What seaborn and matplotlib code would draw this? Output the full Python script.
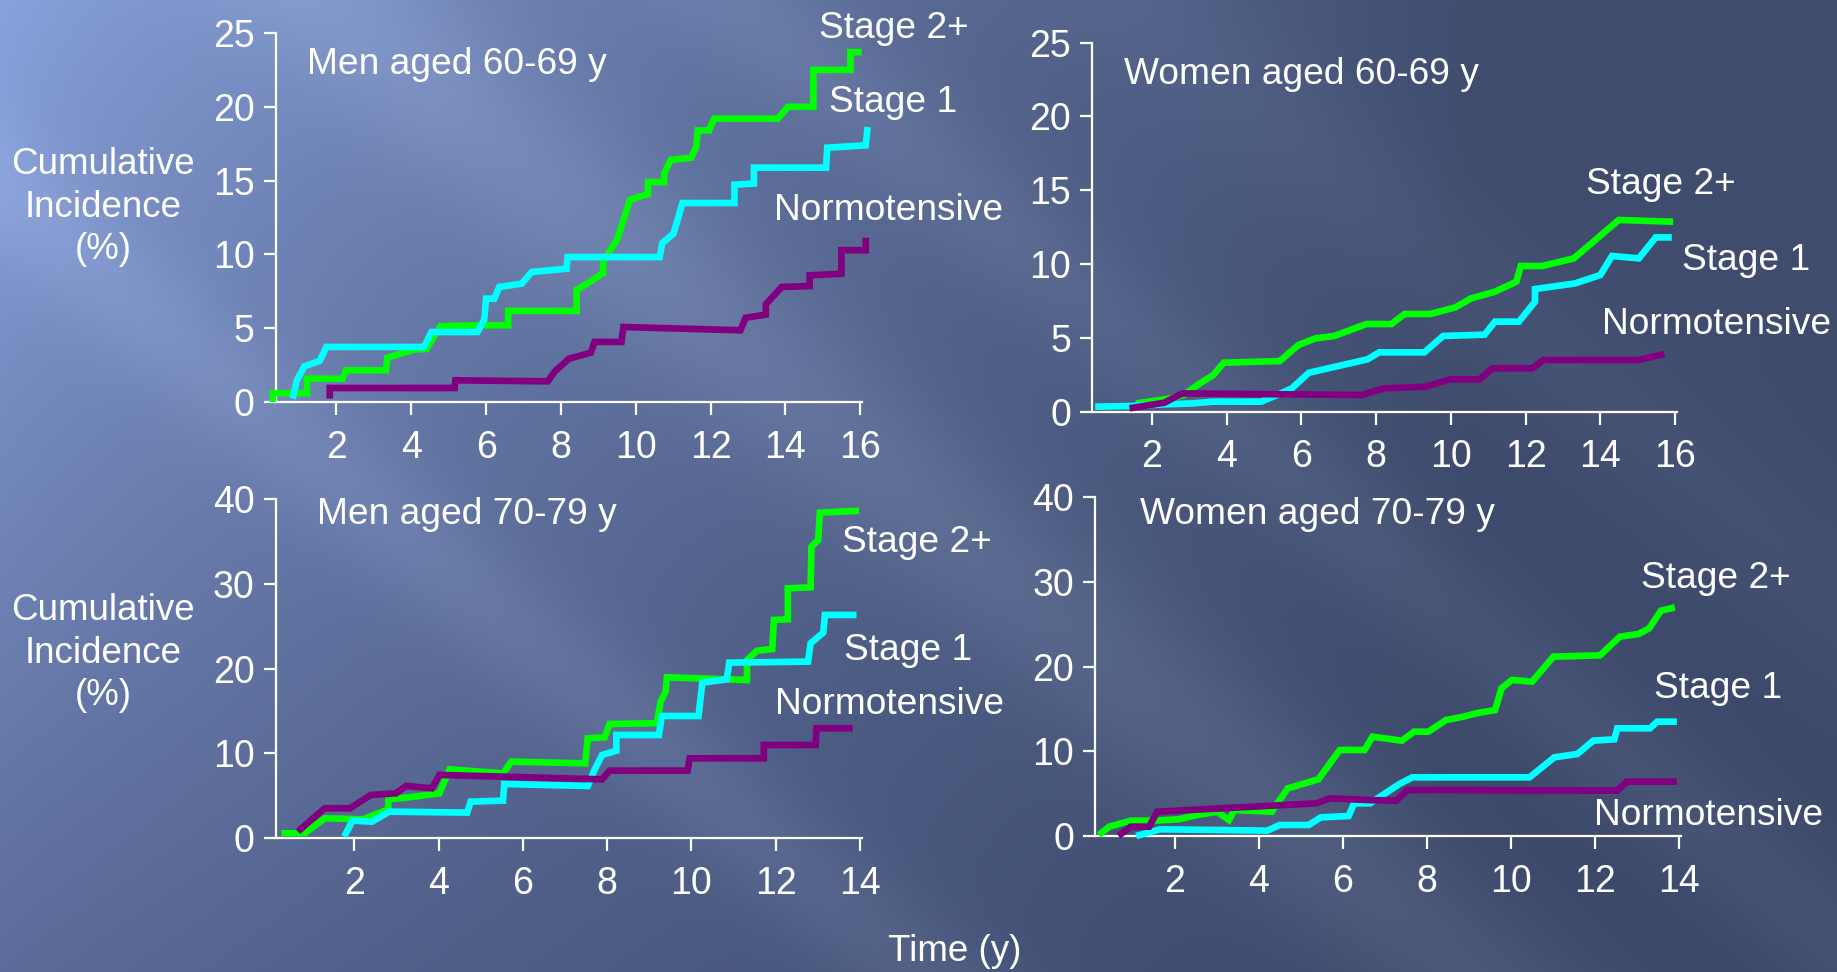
import numpy as np
import pandas as pd
import matplotlib
matplotlib.use("Agg")
import matplotlib.pyplot as plt
import seaborn as sns

# ---------------- data ----------------
# Panel A: Men aged 60-69 y
m60_s2_x = [0.30, 0.30, 1.21, 1.21, 2.16, 2.26, 3.32, 3.36, 4.07, 4.41, 4.78, 5.70, 6.59, 6.59, 8.42, 8.42, 8.69, 9.13, 9.13, 9.50, 9.85, 10.33, 10.33, 10.76, 10.76, 10.94, 11.48, 11.62, 11.66, 11.96, 12.10, 13.80, 14.07, 14.75, 14.75, 15.74, 15.74, 16.04]
m60_s2_y = [0.0, 0.6, 0.6, 1.58, 1.58, 2.15, 2.15, 3.0, 3.55, 3.6, 5.13, 5.2, 5.2, 6.17, 6.17, 7.6, 8.0, 8.74, 9.5, 11.0, 13.7, 14.1, 14.9, 14.9, 15.5, 16.4, 16.55, 17.3, 18.4, 18.4, 19.2, 19.2, 20.0, 20.0, 22.5, 22.5, 23.7, 23.7]
m60_s1_x = [0.83, 0.94, 1.14, 1.55, 1.73, 4.34, 4.54, 5.77, 5.95, 6.00, 6.22, 6.35, 6.95, 7.22, 8.15, 8.18, 10.64, 10.71, 11.01, 11.25, 12.64, 12.64, 13.16, 13.16, 15.09, 15.12, 16.15, 16.20]
m60_s1_y = [0.23, 1.47, 2.42, 2.78, 3.73, 3.73, 4.74, 4.74, 5.58, 7.0, 7.0, 7.79, 8.02, 8.81, 9.03, 9.82, 9.82, 10.77, 11.4, 13.48, 13.48, 14.72, 14.8, 15.88, 15.88, 17.23, 17.39, 18.63]
m60_n_x = [1.82, 1.82, 5.16, 5.18, 7.65, 7.84, 8.22, 8.80, 8.90, 9.62, 9.67, 12.80, 12.94, 13.48, 13.48, 13.90, 14.65, 14.65, 15.50, 15.50, 16.15, 16.15]
m60_n_y = [0.23, 0.95, 0.95, 1.47, 1.40, 2.08, 2.94, 3.34, 4.07, 4.07, 5.08, 4.86, 5.71, 5.92, 6.62, 7.79, 7.86, 8.58, 8.69, 10.28, 10.28, 11.13]

# Panel B: Women aged 60-69 y
w60_s2_x = [1.57, 2.50, 2.85, 3.28, 3.64, 3.92, 5.42, 5.92, 6.37, 6.88, 7.74, 8.41, 8.76, 9.45, 10.12, 10.54, 11.18, 11.75, 11.87, 12.44, 13.29, 14.49, 15.95]
w60_s2_y = [0.56, 0.9, 1.13, 1.92, 2.48, 3.32, 3.43, 4.52, 4.97, 5.13, 5.94, 5.94, 6.62, 6.62, 7.07, 7.68, 8.13, 8.81, 9.87, 9.87, 10.39, 12.99, 12.87]
w60_s1_x = [0.48, 1.36, 2.36, 3.07, 3.64, 4.92, 5.35, 5.74, 6.20, 7.77, 8.08, 9.29, 9.79, 10.90, 11.18, 11.82, 12.25, 12.25, 13.32, 14.00, 14.31, 15.03, 15.48, 15.91]
w60_s1_y = [0.34, 0.38, 0.5, 0.56, 0.68, 0.68, 1.13, 1.58, 2.64, 3.55, 4.02, 4.02, 5.13, 5.22, 6.1, 6.1, 7.45, 8.31, 8.69, 9.26, 10.55, 10.39, 11.81, 11.81]
w60_n_x = [1.40, 2.33, 2.81, 7.62, 8.19, 9.33, 9.97, 10.76, 11.11, 12.18, 12.47, 15.03, 15.71]
w60_n_y = [0.23, 0.61, 1.24, 1.13, 1.58, 1.69, 2.19, 2.19, 2.94, 2.94, 3.5, 3.5, 3.91]

# Panel C: Men aged 70-79 y
m70_s2_x = [0.27, 0.82, 1.30, 2.21, 2.81, 2.81, 3.29, 4.02, 4.26, 5.53, 5.73, 7.48, 7.54, 7.94, 8.06, 9.18, 9.27, 9.39, 9.42, 11.32, 11.32, 11.56, 11.92, 11.96, 12.29, 12.29, 12.83, 12.85, 13.01, 13.05, 13.98]
m70_s2_y = [0.59, 0.59, 2.36, 2.24, 3.42, 4.6, 4.83, 5.3, 8.13, 7.66, 9.04, 8.84, 11.79, 11.9, 13.48, 13.56, 16.11, 17.29, 18.98, 18.66, 21.02, 22.12, 22.32, 25.74, 25.82, 29.47, 29.59, 34.38, 35.17, 38.39, 38.62]
m70_s1_x = [1.76, 1.96, 2.42, 2.83, 4.68, 4.76, 5.53, 5.56, 7.54, 7.70, 7.88, 8.22, 8.22, 9.23, 9.30, 10.17, 10.26, 10.84, 10.90, 12.77, 12.83, 13.13, 13.17, 13.92]
m70_s1_y = [0.2, 2.08, 1.96, 3.14, 3.03, 4.32, 4.44, 6.4, 6.17, 8.06, 9.82, 10.33, 12.18, 12.18, 14.42, 14.42, 18.35, 18.74, 20.71, 20.83, 22.99, 24.24, 26.33, 26.33]
m70_n_x = [0.66, 1.02, 1.30, 1.90, 2.39, 2.99, 3.23, 3.84, 4.02, 7.88, 8.06, 9.91, 9.96, 11.72, 11.72, 12.95, 12.97, 13.83]
m70_n_y = [0.79, 2.36, 3.54, 3.54, 5.11, 5.3, 6.17, 5.89, 7.47, 6.95, 7.98, 7.98, 9.43, 9.43, 11.0, 11.0, 12.97, 12.97]

# Panel D: Women aged 70-79 y
w70_s2_x = [0.19, 0.44, 0.95, 1.46, 2.09, 2.53, 3.01, 3.29, 3.42, 4.31, 4.69, 5.42, 5.93, 6.52, 6.71, 7.41, 7.70, 8.04, 8.46, 8.87, 9.18, 9.63, 9.78, 10.03, 10.51, 11.02, 12.13, 12.60, 13.05, 13.30, 13.58, 13.91]
w70_s2_y = [0.12, 1.1, 1.81, 1.81, 1.97, 2.48, 2.87, 1.89, 3.07, 2.87, 5.63, 6.69, 10.16, 10.16, 11.73, 11.26, 12.32, 12.32, 13.7, 14.09, 14.49, 14.88, 17.44, 18.43, 18.23, 21.18, 21.34, 23.54, 23.86, 24.53, 26.61, 27.0]
w70_s1_x = [1.08, 1.65, 3.04, 4.20, 4.50, 5.19, 5.48, 6.14, 6.27, 6.65, 7.35, 7.66, 10.45, 11.04, 11.59, 11.97, 12.47, 12.54, 13.32, 13.49, 13.96]
w70_s1_y = [0.0, 0.79, 0.71, 0.63, 1.3, 1.3, 2.2, 2.36, 3.86, 3.86, 6.14, 6.93, 6.93, 9.29, 9.69, 11.26, 11.42, 12.72, 12.72, 13.5, 13.5]
w70_n_x = [0.66, 0.95, 1.39, 1.58, 5.38, 5.70, 6.59, 7.28, 7.54, 12.54, 12.77, 13.96]
w70_n_y = [0.0, 1.1, 1.1, 2.87, 3.86, 4.45, 4.25, 4.17, 5.43, 5.35, 6.42, 6.42]

series_names = ["Stage 2+", "Stage 1", "Normotensive"]
panel_titles = ["Men aged 60-69 y", "Women aged 60-69 y", "Men aged 70-79 y", "Women aged 70-79 y"]
xticks_top = [2, 4, 6, 8, 10, 12, 14, 16]
xticks_bottom = [2, 4, 6, 8, 10, 12, 14]
yticks_top = [0, 5, 10, 15, 20, 25]
yticks_bottom = [0, 10, 20, 30, 40]
ylabel_text = "Cumulative\nIncidence\n(%)"
xlabel_text = "Time (y)"

# ---------------- styling ----------------
sns.set_theme(style="ticks")
plt.rcParams["font.family"] = ["Liberation Sans", "DejaVu Sans"]
WHITE = "#FFFFFF"
colors = {"Stage 2+": "#00FF00", "Stage 1": "#00FFFF", "Normotensive": "#800080"}
W, H = 1837, 972

fig = plt.figure(figsize=(W / 100, H / 100), dpi=100)

# background: bilinear corner gradient with soft diagonal light streaks
bg = fig.add_axes([0, 0, 1, 1])
yy, xx = np.mgrid[0:H:2, 0:W:2].astype(float)
u = (xx / W)[..., None]
v = (yy / H)[..., None]
tl = np.array([0x88, 0xA2, 0xDC]) / 255
tr = np.array([0x41, 0x4E, 0x70]) / 255
bl = np.array([0x5C, 0x6C, 0x9A]) / 255
br = np.array([0x3B, 0x48, 0x69]) / 255
uu = np.clip(u * 1.25, 0, 1) ** 0.85
img = (tl * (1 - uu) * (1 - v) + tr * uu * (1 - v) + bl * (1 - uu) * v + br * uu * v)
d = (xx / W) - (yy / H) * 0.62
for c0, w0, a0 in [(-0.12, 0.05, 0.05), (0.18, 0.07, 0.06), (0.40, 0.05, 0.04), (0.62, 0.06, 0.025)]:
    band = np.exp(-((d - c0) / w0) ** 2) * a0
    img = img + band[..., None]
img = np.clip(img, 0, 1)
bg.imshow(img, extent=[0, 1, 0, 1], aspect="auto", origin="upper", zorder=0)
bg.set_axis_off()

def px(x, y):
    return x / W, 1 - y / H

# axes rectangles in figure fractions
rects = [
    [275.5 / W, 1 - 402 / H, (862 - 275.5) / W, (402 - 33) / H],
    [1091.8 / W, 1 - 411.7 / H, (1677 - 1091.8) / W, (411.7 - 42.7) / H],
    [275.5 / W, 1 - 838.3 / H, (862 - 275.5) / W, (838.3 - 499) / H],
    [1095 / W, 1 - 836 / H, (1680.7 - 1095) / W, (836 - 497.3) / H],
]
xlims = [(0.37, 16.05), (0.39, 16.05), (0.13, 14.05), (0.10, 14.05)]
ylims = [(0, 25), (0, 25), (0, 40), (0, 40)]
panel_data = [
    [(m60_s2_x, m60_s2_y), (m60_s1_x, m60_s1_y), (m60_n_x, m60_n_y)],
    [(w60_s2_x, w60_s2_y), (w60_s1_x, w60_s1_y), (w60_n_x, w60_n_y)],
    [(m70_s2_x, m70_s2_y), (m70_s1_x, m70_s1_y), (m70_n_x, m70_n_y)],
    [(w70_s2_x, w70_s2_y), (w70_s1_x, w70_s1_y), (w70_n_x, w70_n_y)],
]
xticks_list = [xticks_top, xticks_top, xticks_bottom, xticks_bottom]
yticks_list = [yticks_top, yticks_top, yticks_bottom, yticks_bottom]

title_pos = [(307, 65), (1124, 75), (317, 515), (1140, 515)]
label_pos = [
    [(819, 29), (829, 102), (774, 210)],
    [(1586, 185), (1682, 260), (1602, 325)],
    [(842, 542), (844, 650), (775, 704)],
    [(1641, 579), (1654, 689), (1594, 815)],
]

for i in range(4):
    ax = fig.add_axes(rects[i])
    ax.patch.set_alpha(0)
    for (xs, ys), name in zip(panel_data[i], series_names):
        df = pd.DataFrame({"x": xs, "y": ys})
        sns.lineplot(data=df, x="x", y="y", sort=False, estimator=None, ax=ax,
                     color=colors[name], linewidth=4.8, solid_joinstyle="miter",
                     solid_capstyle="butt", clip_on=False, zorder=3)
    ax.set_xlim(*xlims[i])
    ax.set_ylim(*ylims[i])
    ax.set_xticks(xticks_list[i])
    ax.set_yticks(yticks_list[i])
    ax.set_xlabel("")
    ax.set_ylabel("")
    sns.despine(ax=ax)
    for s in ["left", "bottom"]:
        ax.spines[s].set_color(WHITE)
        ax.spines[s].set_linewidth(1.6)
    ax.tick_params(axis="both", colors=WHITE, length=9, width=1.6, labelsize=27)
    ax.tick_params(axis="x", pad=11)
    ax.tick_params(axis="y", pad=6)
    tx, ty = px(*title_pos[i])
    fig.text(tx, ty, panel_titles[i], color=WHITE, fontsize=26.7, ha="left", va="center")
    for (lx, ly), name in zip(label_pos[i], series_names):
        fx, fy = px(lx, ly)
        fig.text(fx, fy, name, color=WHITE, fontsize=26.7, ha="left", va="center")

for cy in [207, 653]:
    fx, fy = px(103, cy)
    fig.text(fx, fy, ylabel_text, color=WHITE, fontsize=26.5, ha="center", va="center",
             linespacing=1.28)
fx, fy = px(955, 951)
fig.text(fx, fy, xlabel_text, color=WHITE, fontsize=26.5, ha="center", va="center")

fig.savefig("out.png", dpi=100)
